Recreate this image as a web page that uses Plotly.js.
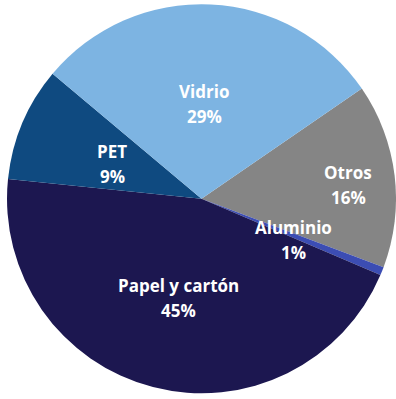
<!DOCTYPE html>
<html>
<head>
<meta charset="utf-8">
<script src="https://cdn.plot.ly/plotly-3.0.1.min.js"></script>
<style>
html,body{margin:0;padding:0;background:#fff;}
#chart{width:396px;height:399px;}
</style>
</head>
<body>
<div id="chart"></div>
<script>
// Data (order clockwise starting from the Vidrio/Otros boundary)
var categories = ['Otros', 'Aluminio', 'Papel y cartón', 'PET', 'Vidrio'];
var shares = [15.3, 0.7, 45.2, 9.5, 29.3];
var pctLabels = ['16%', '1%', '45%', '9%', '29%'];
var colors = ['#858585', '#3c4db3', '#1c1750', '#0f4a80', '#7db4e2'];

// label anchor positions (paper coords)
var labelX = [0.879, 0.742, 0.450, 0.284, 0.516];
var labelY = [0.537, 0.398, 0.254, 0.589, 0.739];

var annotations = [];
for (var i = 0; i < categories.length; i++) {
  annotations.push({
    xref: 'paper', yref: 'paper', x: labelX[i], y: labelY[i],
    xanchor: 'center', yanchor: 'middle',
    text: '<b>' + categories[i] + '</b>', showarrow: false, yshift: 12.5,
    font: {family: 'Open Sans, sans-serif', size: 17, color: '#ffffff'}
  });
  annotations.push({
    xref: 'paper', yref: 'paper', x: labelX[i], y: labelY[i],
    xanchor: 'center', yanchor: 'middle',
    text: '<b>' + pctLabels[i] + '</b>', showarrow: false, yshift: -12.5,
    font: {family: 'Open Sans, sans-serif', size: 17, color: '#ffffff'}
  });
}

var trace = {
  type: 'pie',
  labels: categories,
  values: shares,
  sort: false,
  direction: 'clockwise',
  rotation: 55.5,
  marker: {colors: colors, line: {width: 0}},
  textinfo: 'none',
  hoverinfo: 'none',
  domain: {x: [0.0177, 1], y: [0.0125, 0.9912]}
};

var layout = {
  width: 396, height: 399,
  margin: {l: 0, r: 0, t: 0, b: 0},
  showlegend: false,
  paper_bgcolor: '#ffffff',
  annotations: annotations
};

Plotly.newPlot('chart', [trace], layout, {displayModeBar: false, staticPlot: true});
</script>
</body>
</html>
